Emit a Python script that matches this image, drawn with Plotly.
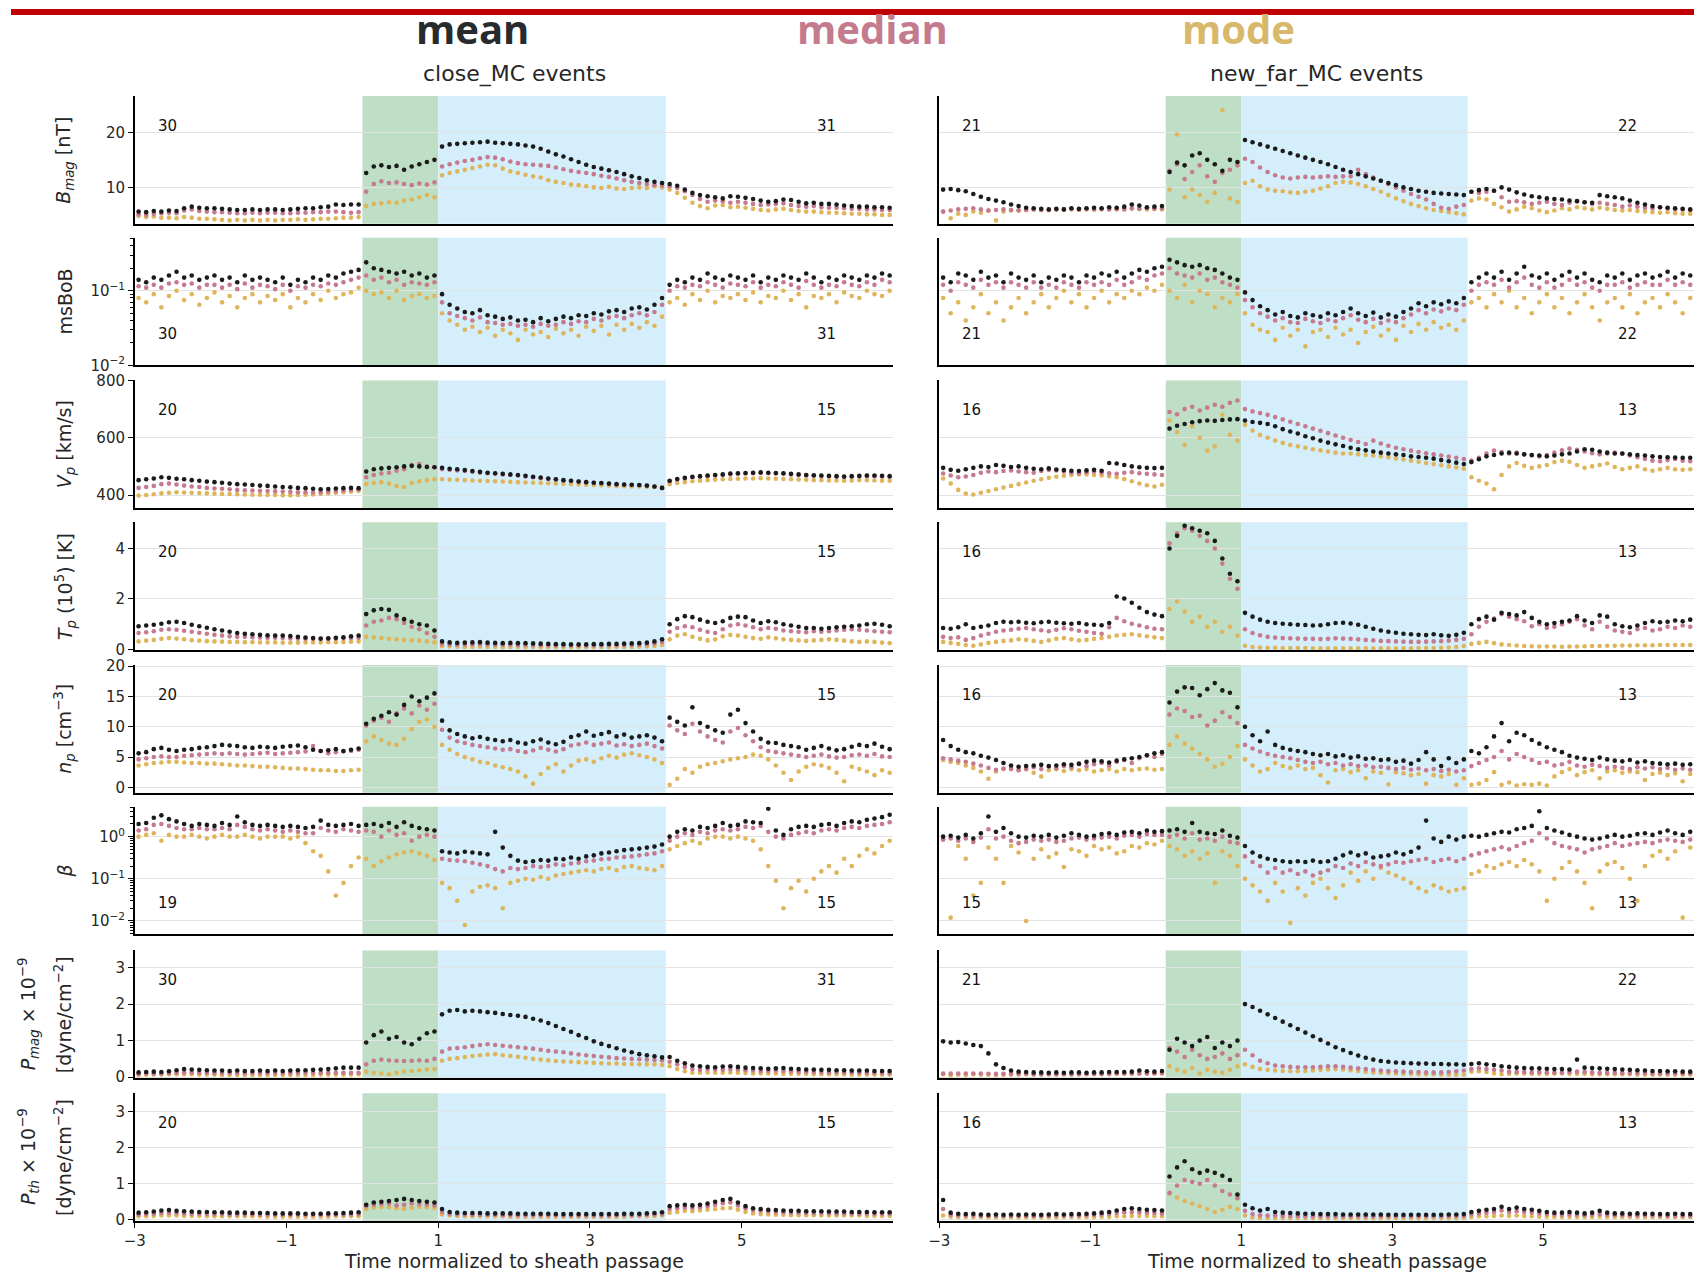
import numpy as np
import plotly.graph_objects as go

W, H = 1694, 1275

# ---------------------------------------------------------------------------
# Superposed-epoch profiles, one value per 0.1 of normalised time
# (30 bins before the sheath, 10 in the sheath, 30 in the MC, 30 after).
# ---------------------------------------------------------------------------

# ======================= close_MC events =======================
close_bmag_mean = [5.6,5.5,5.7,5.6,5.8,5.7,6.2,6.5,6.3,6.2,
    6.2,6.1,6.0,5.9,5.9,6.0,5.9,6.0,6.0,5.9,
    6.0,6.1,6.2,6.2,6.4,6.5,6.9,6.8,6.9,6.9,
    12.6,13.8,14.0,13.7,13.9,13.2,13.8,14.2,14.6,15.0,
    17.4,17.8,17.9,18.0,18.1,18.2,18.3,18.1,18.0,17.9,
    17.8,17.6,17.4,17.0,16.5,16.0,15.6,15.1,14.6,14.1,
    13.7,13.4,13.1,12.8,12.4,12.0,11.7,11.3,11.0,10.8,
    10.6,10.3,9.6,9.0,8.6,8.4,8.2,8.0,8.4,8.3,
    8.1,7.9,7.6,7.4,7.5,7.8,7.7,7.4,7.1,7.2,
    7.0,7.0,6.9,6.7,6.6,6.5,6.5,6.4,6.4,6.3]
close_bmag_median = [5.1,5.0,5.2,5.3,5.4,5.3,5.8,6.0,5.7,5.6,
    5.5,5.5,5.4,5.3,5.3,5.4,5.3,5.4,5.4,5.3,
    5.3,5.4,5.4,5.5,5.5,5.6,5.6,5.5,5.4,5.5,
    9.2,10.6,11.1,10.8,10.9,10.6,10.4,10.7,10.5,10.9,
    13.8,14.2,14.5,14.8,15.0,15.3,15.5,15.4,15.1,14.7,
    14.4,14.2,14.1,14.0,13.9,13.6,13.3,13.0,12.8,12.6,
    12.4,12.1,11.9,11.6,11.3,11.0,10.8,10.6,10.4,10.3,
    10.2,9.9,9.3,8.6,7.9,7.4,7.6,7.5,7.2,7.4,
    7.2,7.0,6.8,6.9,7.0,7.1,6.8,6.6,6.5,6.6,
    6.4,6.3,6.3,6.2,6.1,6.1,6.0,6.0,5.9,5.9]
close_bmag_mode = [4.8,4.6,4.7,4.5,4.5,4.4,4.6,4.5,4.3,4.3,
    4.2,4.1,4.0,4.1,4.0,4.1,4.0,4.1,4.0,4.1,
    4.1,4.2,4.1,4.2,4.3,4.3,4.4,4.5,4.5,4.6,
    6.6,7.0,7.1,7.3,7.2,7.6,7.8,8.2,8.6,8.2,
    12.2,12.6,12.9,13.2,13.5,13.8,14.1,14.0,13.4,12.9,
    12.6,12.3,12.0,11.8,11.3,11.0,10.8,10.5,10.4,10.2,
    10.0,9.9,10.1,9.8,9.7,9.9,10.0,9.9,10.2,10.0,
    9.6,9.0,8.1,7.2,6.6,6.2,6.7,6.8,6.4,6.5,
    6.3,6.1,5.9,5.8,6.0,6.1,5.9,5.7,5.6,5.6,
    5.5,5.4,5.4,5.3,5.2,5.2,5.1,5.1,5.0,5.0]

close_msbob_mean = [0.14,0.13,0.15,0.14,0.16,0.18,0.15,0.16,0.14,0.15,
    0.16,0.14,0.15,0.13,0.16,0.14,0.15,0.14,0.13,0.15,
    0.12,0.14,0.13,0.15,0.14,0.16,0.15,0.17,0.18,0.19,
    0.24,0.20,0.19,0.18,0.17,0.18,0.16,0.17,0.15,0.16,
    0.09,0.065,0.058,0.052,0.050,0.055,0.047,0.045,0.042,0.044,
    0.040,0.041,0.038,0.043,0.039,0.042,0.045,0.043,0.047,0.046,
    0.050,0.048,0.053,0.055,0.052,0.058,0.060,0.056,0.065,0.08,
    0.12,0.14,0.13,0.15,0.14,0.17,0.15,0.14,0.16,0.15,
    0.14,0.16,0.13,0.15,0.14,0.16,0.15,0.14,0.17,0.15,
    0.13,0.15,0.14,0.16,0.15,0.14,0.16,0.15,0.17,0.16]
close_msbob_median = [0.115,0.11,0.12,0.11,0.125,0.13,0.12,0.125,0.11,0.12,
    0.12,0.11,0.12,0.105,0.125,0.11,0.12,0.115,0.105,0.12,
    0.10,0.115,0.11,0.12,0.115,0.125,0.12,0.13,0.14,0.15,
    0.16,0.14,0.15,0.13,0.14,0.12,0.13,0.125,0.12,0.13,
    0.07,0.05,0.046,0.043,0.040,0.044,0.038,0.037,0.035,0.036,
    0.034,0.035,0.033,0.036,0.034,0.035,0.038,0.036,0.039,0.038,
    0.042,0.040,0.044,0.046,0.043,0.047,0.050,0.047,0.052,0.065,
    0.10,0.115,0.11,0.12,0.115,0.13,0.12,0.11,0.125,0.12,
    0.115,0.13,0.11,0.12,0.115,0.13,0.12,0.11,0.135,0.12,
    0.11,0.12,0.115,0.13,0.12,0.115,0.13,0.12,0.14,0.13]
close_msbob_mode = [0.08,0.07,0.09,0.06,0.085,0.10,0.075,0.09,0.065,0.08,
    0.095,0.07,0.085,0.06,0.08,0.09,0.07,0.085,0.075,0.09,
    0.06,0.08,0.07,0.09,0.075,0.10,0.08,0.09,0.095,0.11,
    0.10,0.09,0.095,0.08,0.10,0.075,0.085,0.09,0.08,0.085,
    0.05,0.04,0.035,0.03,0.033,0.028,0.032,0.025,0.03,0.027,
    0.022,0.03,0.026,0.028,0.024,0.031,0.027,0.03,0.025,0.033,
    0.029,0.034,0.026,0.035,0.03,0.036,0.032,0.038,0.034,0.045,
    0.07,0.08,0.065,0.09,0.075,0.10,0.07,0.085,0.08,0.09,
    0.075,0.095,0.07,0.085,0.08,0.10,0.075,0.09,0.06,0.085,
    0.08,0.09,0.07,0.095,0.085,0.08,0.10,0.09,0.085,0.10]

close_vp_mean = [452,455,458,462,460,457,455,452,450,447,
    445,443,440,438,437,435,433,432,430,428,
    427,425,424,422,420,421,423,424,425,424,
    482,490,493,495,497,500,502,500,498,497,
    495,492,490,487,484,481,478,476,474,472,
    470,467,464,461,458,455,452,450,447,445,
    443,442,440,438,437,436,435,433,430,425,
    450,456,460,464,466,468,470,472,475,476,
    477,478,479,478,477,476,474,472,470,469,
    468,467,466,465,466,467,468,468,467,466]
close_vp_median = [425,428,432,438,440,437,433,430,428,425,
    423,422,420,418,417,416,415,414,413,412,
    411,410,410,409,410,412,414,416,418,420,
    462,470,475,478,485,490,505,508,500,498,
    490,488,486,484,481,478,476,474,472,470,
    468,465,462,459,456,454,451,449,447,445,
    443,441,439,437,436,435,434,432,429,424,
    448,454,458,462,464,466,468,470,472,474,
    475,476,477,476,475,474,472,470,468,467,
    466,465,464,463,464,465,466,466,465,464]
close_vp_mode = [398,400,403,406,408,410,409,408,407,406,
    405,404,404,403,402,401,401,400,400,399,
    399,400,401,402,404,406,408,410,412,414,
    438,442,445,440,432,428,442,448,452,455,
    455,454,453,452,451,450,449,448,447,446,
    445,444,443,442,441,440,439,438,437,436,
    435,434,433,432,431,430,430,429,428,427,
    438,442,445,448,450,452,454,455,456,457,
    458,458,459,458,457,456,455,454,453,452,
    452,451,451,450,451,452,452,451,450,450]

close_tp_mean = [0.92,0.95,0.98,1.02,1.08,1.10,1.05,0.98,0.92,0.86,
    0.80,0.75,0.70,0.65,0.62,0.60,0.58,0.56,0.55,0.55,
    0.53,0.50,0.47,0.45,0.43,0.44,0.46,0.48,0.52,0.55,
    1.40,1.55,1.60,1.57,1.35,1.20,1.10,1.00,0.95,0.75,
    0.32,0.28,0.26,0.27,0.28,0.29,0.27,0.26,0.25,0.26,
    0.25,0.25,0.24,0.23,0.22,0.21,0.21,0.20,0.20,0.20,
    0.21,0.21,0.22,0.22,0.23,0.24,0.25,0.27,0.32,0.40,
    1.00,1.20,1.32,1.28,1.18,1.10,1.05,1.12,1.25,1.30,
    1.28,1.15,1.05,1.12,1.08,1.00,0.95,0.90,0.85,0.85,
    0.82,0.85,0.88,0.90,0.92,0.95,1.00,1.02,0.98,0.92]
close_tp_median = [0.65,0.68,0.72,0.78,0.80,0.78,0.74,0.70,0.66,0.62,
    0.58,0.55,0.52,0.50,0.50,0.48,0.47,0.46,0.46,0.45,
    0.44,0.43,0.42,0.42,0.41,0.42,0.43,0.44,0.45,0.46,
    0.95,1.10,1.15,1.25,1.20,1.05,0.90,0.80,0.65,0.50,
    0.22,0.20,0.19,0.20,0.20,0.21,0.20,0.19,0.19,0.19,
    0.18,0.18,0.18,0.17,0.17,0.16,0.16,0.16,0.16,0.16,
    0.16,0.17,0.17,0.17,0.18,0.18,0.19,0.20,0.24,0.30,
    0.70,0.85,0.92,0.88,0.78,0.70,0.65,0.80,0.95,1.00,
    0.95,0.88,0.80,0.85,0.82,0.75,0.72,0.70,0.68,0.72,
    0.70,0.72,0.75,0.78,0.80,0.78,0.75,0.72,0.70,0.68]
close_tp_mode = [0.32,0.35,0.38,0.42,0.45,0.43,0.40,0.37,0.35,0.33,
    0.32,0.31,0.30,0.30,0.29,0.29,0.28,0.28,0.28,0.27,
    0.27,0.27,0.28,0.28,0.28,0.29,0.29,0.30,0.31,0.32,
    0.50,0.48,0.45,0.42,0.40,0.38,0.36,0.35,0.32,0.28,
    0.13,0.12,0.11,0.10,0.10,0.11,0.10,0.10,0.09,0.10,
    0.10,0.09,0.10,0.09,0.09,0.09,0.08,0.09,0.09,0.09,
    0.09,0.10,0.09,0.10,0.10,0.10,0.11,0.12,0.14,0.18,
    0.40,0.55,0.60,0.50,0.42,0.36,0.40,0.52,0.58,0.55,
    0.50,0.45,0.42,0.48,0.44,0.40,0.38,0.36,0.34,0.36,
    0.38,0.40,0.38,0.35,0.32,0.30,0.32,0.30,0.27,0.25]

close_np_mean = [5.6,5.8,6.3,6.5,6.2,6.0,6.2,6.3,6.5,6.6,
    6.8,7.0,6.9,6.8,6.6,6.5,6.7,6.6,6.5,6.7,
    6.8,6.9,6.6,6.2,6.0,6.1,6.3,6.0,6.2,6.4,
    10.5,11.3,11.8,12.4,12.0,13.6,15.0,14.2,14.8,15.5,
    11.0,9.4,8.8,8.4,8.1,8.3,8.0,7.8,7.6,7.8,
    7.4,7.2,7.6,7.9,7.4,7.1,7.5,8.3,8.6,9.2,
    8.5,8.8,9.1,8.4,8.7,8.2,8.4,8.6,8.2,7.6,
    11.5,10.8,10.2,13.2,10.6,10.0,9.4,9.0,12.0,12.8,
    10.6,9.2,8.0,7.4,7.3,7.0,6.8,6.6,6.2,6.5,
    6.8,6.4,6.1,6.3,6.7,7.0,6.8,7.2,6.7,6.3]
close_np_median = [4.6,4.8,5.0,5.1,5.0,5.0,5.2,5.3,5.4,5.5,
    5.6,5.5,5.6,5.5,5.4,5.5,5.6,5.7,5.5,5.6,
    5.7,5.8,5.9,6.8,6.0,5.6,5.8,5.9,6.0,6.2,
    10.2,11.0,11.5,10.8,12.2,13.0,12.2,13.5,12.8,13.8,
    9.5,8.2,7.6,7.3,7.0,6.8,6.6,6.4,6.2,6.3,
    6.0,5.8,6.1,6.5,6.2,5.9,6.3,6.9,7.1,7.4,
    7.0,7.2,7.4,6.9,7.1,6.8,7.0,7.2,6.8,6.4,
    10.2,9.4,8.8,10.5,9.2,8.4,7.8,7.4,9.2,9.8,
    8.6,7.6,6.6,6.0,5.8,5.6,5.4,5.2,5.0,5.2,
    5.4,5.1,4.9,5.0,5.3,5.4,5.2,5.5,5.1,5.0]
close_np_mode = [3.6,3.8,4.0,4.1,4.2,4.2,4.1,4.0,4.0,3.9,
    3.9,3.8,3.7,3.6,3.6,3.5,3.4,3.4,3.3,3.2,
    3.1,3.1,3.0,2.9,2.8,2.8,2.7,2.7,2.8,2.9,
    7.6,8.4,7.8,7.2,7.0,8.0,9.6,10.8,11.2,10.0,
    7.0,6.2,5.5,5.0,4.6,4.2,4.0,3.6,3.3,3.0,
    2.6,1.8,0.6,2.2,3.2,3.8,2.6,3.6,4.4,4.6,
    4.2,4.8,5.2,4.9,5.4,5.6,5.3,5.0,4.6,4.0,
    0.4,1.4,3.0,2.4,3.4,3.8,4.0,4.3,4.6,4.8,
    5.0,5.4,5.2,4.6,3.6,2.4,1.2,2.6,3.4,3.8,
    3.6,3.2,2.4,1.0,3.4,3.0,2.6,2.0,2.8,2.4]

close_beta_mean = [2.0,2.1,2.8,3.2,2.6,2.3,2.0,1.8,2.0,1.9,
    1.8,2.1,1.9,3.0,2.2,1.9,1.8,1.9,1.8,1.7,
    1.8,1.7,1.6,1.7,2.4,1.9,1.8,1.9,2.0,1.8,
    1.9,2.0,1.8,2.1,1.7,2.2,1.8,1.6,1.5,1.4,
    0.45,0.42,0.40,0.44,0.42,0.40,0.38,1.3,0.55,0.35,
    0.27,0.25,0.26,0.28,0.27,0.30,0.29,0.32,0.30,0.34,
    0.36,0.40,0.42,0.45,0.48,0.50,0.52,0.55,0.58,0.65,
    1.0,1.3,1.5,1.4,1.7,1.6,1.8,2.1,1.8,1.9,
    2.3,2.2,2.1,4.6,1.4,1.1,1.5,1.7,1.8,1.7,
    1.9,2.0,1.8,2.1,2.3,2.2,2.5,2.7,2.9,3.3]
close_beta_median = [1.4,1.5,1.9,2.0,1.8,1.6,1.5,1.5,1.6,1.5,
    1.5,1.6,1.5,1.9,1.7,1.5,1.4,1.5,1.4,1.3,
    1.4,1.3,1.2,1.2,1.6,1.4,1.3,1.5,1.4,1.3,
    1.4,1.3,1.0,1.4,1.1,1.2,0.8,1.0,1.1,1.0,
    0.30,0.28,0.27,0.26,0.24,0.22,0.20,0.17,0.15,0.18,
    0.17,0.18,0.20,0.19,0.20,0.22,0.21,0.23,0.24,0.26,
    0.27,0.29,0.30,0.32,0.33,0.34,0.36,0.38,0.40,0.45,
    0.8,1.0,1.2,1.1,1.3,1.2,1.4,1.5,1.4,1.5,
    1.7,1.6,1.8,1.3,1.0,0.9,1.1,1.2,1.3,1.2,
    1.4,1.5,1.4,1.6,1.7,1.6,1.8,1.9,2.0,2.2]
close_beta_mode = [1.0,1.1,1.2,0.8,1.1,1.0,1.0,1.1,1.0,0.9,
    1.0,1.1,1.0,1.0,1.1,1.0,0.9,1.0,1.0,1.0,
    0.9,1.0,0.7,0.45,0.35,0.15,0.04,0.08,0.2,0.32,
    0.30,0.20,0.26,0.32,0.38,0.42,0.45,0.40,0.35,0.28,
    0.08,0.06,0.03,0.008,0.05,0.065,0.07,0.06,0.02,0.08,
    0.09,0.10,0.095,0.11,0.10,0.12,0.13,0.14,0.15,0.16,
    0.15,0.17,0.18,0.16,0.19,0.20,0.18,0.17,0.16,0.20,
    0.5,0.6,0.7,0.8,0.7,0.9,1.0,1.0,0.9,1.0,
    0.9,0.8,0.5,0.2,0.09,0.02,0.06,0.09,0.05,0.1,
    0.15,0.2,0.14,0.3,0.2,0.35,0.5,0.4,0.6,0.8]

close_pmag_mean = [0.13,0.14,0.15,0.14,0.16,0.19,0.22,0.21,0.20,0.19,
    0.18,0.18,0.17,0.18,0.17,0.17,0.18,0.17,0.18,0.17,
    0.18,0.19,0.19,0.20,0.21,0.22,0.24,0.26,0.26,0.26,
    0.95,1.15,1.25,1.05,1.10,0.95,0.90,1.05,1.20,1.25,
    1.72,1.82,1.84,1.80,1.82,1.80,1.78,1.76,1.73,1.70,
    1.68,1.65,1.60,1.55,1.48,1.40,1.32,1.24,1.15,1.07,
    0.98,0.91,0.85,0.79,0.73,0.68,0.63,0.60,0.57,0.54,
    0.55,0.45,0.38,0.32,0.30,0.28,0.27,0.29,0.30,0.28,
    0.26,0.25,0.24,0.23,0.24,0.25,0.23,0.22,0.21,0.21,
    0.20,0.20,0.19,0.19,0.18,0.18,0.18,0.17,0.17,0.17]
close_pmag_median = [0.09,0.10,0.10,0.10,0.11,0.12,0.13,0.13,0.12,0.12,
    0.11,0.11,0.11,0.11,0.11,0.11,0.11,0.11,0.11,0.11,
    0.11,0.12,0.12,0.12,0.12,0.12,0.12,0.12,0.12,0.12,
    0.35,0.45,0.48,0.46,0.45,0.44,0.45,0.46,0.45,0.50,
    0.70,0.78,0.80,0.82,0.85,0.88,0.90,0.88,0.86,0.84,
    0.82,0.80,0.78,0.75,0.72,0.70,0.68,0.65,0.62,0.60,
    0.58,0.56,0.54,0.52,0.51,0.50,0.49,0.48,0.47,0.46,
    0.42,0.35,0.28,0.22,0.20,0.22,0.21,0.20,0.22,0.21,
    0.19,0.18,0.17,0.17,0.18,0.17,0.16,0.15,0.15,0.14,
    0.14,0.13,0.14,0.13,0.13,0.12,0.12,0.12,0.11,0.11]
close_pmag_mode = [0.06,0.07,0.07,0.07,0.08,0.08,0.08,0.08,0.07,0.07,
    0.07,0.06,0.06,0.06,0.06,0.06,0.06,0.06,0.06,0.06,
    0.06,0.06,0.06,0.06,0.07,0.07,0.07,0.07,0.07,0.08,
    0.15,0.12,0.10,0.08,0.12,0.15,0.17,0.19,0.21,0.22,
    0.45,0.50,0.52,0.55,0.58,0.60,0.62,0.63,0.60,0.58,
    0.56,0.53,0.50,0.48,0.46,0.44,0.43,0.42,0.41,0.40,
    0.39,0.38,0.37,0.37,0.36,0.36,0.35,0.35,0.35,0.34,
    0.30,0.22,0.16,0.12,0.12,0.13,0.12,0.12,0.13,0.12,
    0.11,0.10,0.10,0.10,0.10,0.09,0.09,0.09,0.09,0.08,
    0.08,0.08,0.08,0.08,0.07,0.07,0.07,0.07,0.07,0.07]

close_pth_mean = [0.20,0.21,0.23,0.26,0.27,0.25,0.24,0.23,0.22,0.22,
    0.21,0.21,0.20,0.20,0.20,0.19,0.19,0.19,0.18,0.18,
    0.18,0.18,0.17,0.17,0.17,0.18,0.18,0.19,0.20,0.21,
    0.42,0.48,0.50,0.52,0.55,0.58,0.55,0.52,0.50,0.48,
    0.30,0.22,0.20,0.19,0.19,0.19,0.18,0.18,0.18,0.18,
    0.17,0.17,0.17,0.17,0.17,0.16,0.16,0.16,0.16,0.16,
    0.16,0.16,0.16,0.16,0.17,0.17,0.17,0.18,0.19,0.21,
    0.38,0.40,0.42,0.40,0.42,0.45,0.50,0.55,0.58,0.48,
    0.38,0.32,0.30,0.28,0.27,0.26,0.25,0.25,0.24,0.24,
    0.24,0.23,0.23,0.23,0.22,0.22,0.22,0.21,0.21,0.21]
close_pth_median = [0.15,0.16,0.17,0.19,0.20,0.19,0.18,0.17,0.17,0.16,
    0.16,0.16,0.15,0.15,0.15,0.15,0.14,0.14,0.14,0.14,
    0.14,0.14,0.14,0.14,0.14,0.14,0.15,0.15,0.15,0.16,
    0.38,0.42,0.44,0.45,0.40,0.42,0.46,0.44,0.42,0.40,
    0.22,0.17,0.15,0.15,0.14,0.14,0.14,0.14,0.13,0.13,
    0.13,0.13,0.13,0.13,0.13,0.13,0.12,0.12,0.12,0.12,
    0.12,0.12,0.12,0.12,0.13,0.13,0.13,0.14,0.15,0.16,
    0.30,0.32,0.34,0.33,0.35,0.38,0.42,0.46,0.48,0.40,
    0.32,0.27,0.25,0.23,0.22,0.21,0.20,0.20,0.19,0.19,
    0.19,0.18,0.18,0.18,0.18,0.17,0.17,0.17,0.17,0.17]
close_pth_mode = [0.10,0.10,0.11,0.12,0.12,0.12,0.11,0.11,0.11,0.10,
    0.10,0.10,0.10,0.10,0.10,0.10,0.10,0.09,0.09,0.09,
    0.09,0.09,0.09,0.09,0.09,0.09,0.10,0.10,0.10,0.10,
    0.30,0.34,0.36,0.35,0.32,0.30,0.34,0.36,0.35,0.33,
    0.15,0.12,0.11,0.10,0.10,0.10,0.10,0.10,0.10,0.09,
    0.09,0.09,0.09,0.09,0.09,0.09,0.09,0.09,0.09,0.09,
    0.09,0.09,0.09,0.09,0.09,0.10,0.10,0.10,0.11,0.12,
    0.20,0.22,0.25,0.24,0.26,0.28,0.30,0.32,0.33,0.28,
    0.22,0.18,0.16,0.15,0.14,0.14,0.13,0.13,0.13,0.13,
    0.12,0.12,0.12,0.12,0.12,0.12,0.11,0.11,0.11,0.11]

# ======================= new_far_MC events =======================
far_bmag_mean = [9.6,9.7,9.5,9.3,8.8,8.3,7.9,7.6,7.3,6.9,
    6.6,6.3,6.2,6.1,6.0,6.1,6.0,6.2,6.1,6.2,
    6.3,6.2,6.4,6.3,6.5,6.9,6.7,6.4,6.5,6.6,
    12.8,14.5,14.0,15.8,16.2,15.0,14.2,13.0,15.0,14.6,
    18.6,18.2,17.8,17.4,17.0,16.6,16.2,15.8,15.4,15.0,
    14.6,14.2,13.7,13.2,12.8,12.4,12.0,11.6,11.2,10.8,
    10.4,10.0,9.7,9.4,9.2,9.0,8.9,8.8,8.7,8.6,
    9.2,9.5,9.7,9.4,10.0,9.6,9.1,8.7,8.4,8.2,
    8.0,7.9,7.8,7.6,7.5,7.3,7.2,8.6,8.4,8.2,
    8.0,7.6,7.2,6.9,6.6,6.4,6.3,6.2,6.1,6.0]
far_bmag_median = [5.6,5.8,6.0,6.1,6.2,6.0,5.8,5.9,6.0,5.9,
    5.8,5.9,6.0,5.9,5.9,6.0,6.0,6.1,6.0,6.1,
    6.0,6.1,6.0,6.1,6.0,6.2,6.1,6.2,6.1,6.2,
    13.0,14.2,11.5,12.8,14.0,12.0,11.0,12.6,13.2,14.0,
    15.2,14.6,13.6,12.8,12.2,11.8,11.6,11.8,11.9,11.8,
    11.9,12.0,11.9,12.0,12.0,13.2,12.4,11.8,11.2,10.6,
    10.0,9.4,8.8,8.3,7.8,7.0,6.3,6.1,6.5,6.8,
    9.2,9.0,9.2,9.4,8.2,7.4,7.5,7.3,7.0,7.2,
    7.4,7.0,6.8,7.2,7.5,7.3,7.0,7.2,7.0,6.8,
    6.5,6.7,6.5,6.3,6.2,6.4,6.2,6.0,6.0,5.9]
far_bmag_mode = [5.6,4.4,5.2,5.0,5.6,5.4,5.8,4.0,5.6,5.8,
    5.8,5.9,6.0,5.9,5.9,6.0,6.0,6.0,6.0,6.0,
    6.0,6.0,6.1,6.0,6.1,6.1,6.1,6.0,6.1,6.0,
    9.6,19.6,8.2,9.6,8.6,7.4,9.0,24.0,8.0,7.4,
    10.8,11.2,10.2,9.6,9.4,9.3,9.1,9.0,9.2,9.4,
    9.8,10.2,10.8,11.0,10.9,10.6,10.2,9.7,9.2,8.6,
    8.0,7.5,7.0,6.6,6.2,5.9,5.7,5.5,5.3,5.1,
    7.6,8.0,7.8,7.0,6.4,5.6,6.0,6.5,6.2,5.8,
    5.5,5.8,6.2,6.0,6.4,6.2,6.0,6.3,6.1,5.9,
    5.8,5.9,5.7,5.6,5.5,5.4,5.5,5.3,5.2,5.2]

far_msbob_mean = [0.15,0.13,0.17,0.16,0.14,0.18,0.15,0.16,0.13,0.17,
    0.15,0.14,0.16,0.13,0.15,0.14,0.16,0.15,0.13,0.16,
    0.15,0.17,0.16,0.18,0.15,0.17,0.19,0.18,0.20,0.21,
    0.26,0.24,0.22,0.21,0.22,0.20,0.19,0.17,0.15,0.14,
    0.095,0.075,0.062,0.055,0.048,0.052,0.046,0.044,0.05,0.047,
    0.045,0.05,0.047,0.052,0.058,0.05,0.046,0.051,0.044,0.048,
    0.045,0.052,0.058,0.068,0.062,0.07,0.066,0.072,0.068,0.08,
    0.13,0.15,0.17,0.15,0.18,0.14,0.17,0.21,0.16,0.15,
    0.17,0.14,0.16,0.18,0.15,0.17,0.14,0.13,0.16,0.15,
    0.17,0.14,0.16,0.17,0.15,0.16,0.18,0.15,0.17,0.16]
far_msbob_median = [0.12,0.10,0.13,0.12,0.11,0.14,0.12,0.13,0.11,0.13,
    0.12,0.11,0.13,0.11,0.12,0.11,0.13,0.12,0.11,0.13,
    0.12,0.13,0.12,0.14,0.12,0.13,0.15,0.14,0.16,0.17,
    0.20,0.17,0.16,0.15,0.17,0.14,0.15,0.13,0.12,0.11,
    0.075,0.06,0.05,0.045,0.04,0.043,0.038,0.037,0.042,0.039,
    0.037,0.041,0.039,0.043,0.047,0.041,0.038,0.042,0.037,0.04,
    0.038,0.043,0.048,0.055,0.05,0.056,0.053,0.058,0.055,0.065,
    0.10,0.12,0.13,0.12,0.14,0.11,0.13,0.15,0.12,0.11,
    0.13,0.11,0.12,0.14,0.12,0.13,0.11,0.10,0.12,0.12,
    0.13,0.11,0.12,0.13,0.12,0.12,0.14,0.12,0.13,0.12]
far_msbob_mode = [0.08,0.05,0.07,0.04,0.06,0.09,0.05,0.07,0.04,0.06,
    0.08,0.05,0.07,0.09,0.06,0.08,0.10,0.07,0.09,0.06,
    0.08,0.10,0.07,0.09,0.08,0.10,0.09,0.11,0.10,0.12,
    0.10,0.08,0.12,0.07,0.10,0.09,0.06,0.08,0.07,0.09,
    0.05,0.035,0.03,0.028,0.022,0.032,0.025,0.03,0.018,0.028,
    0.03,0.024,0.032,0.026,0.03,0.02,0.028,0.033,0.025,0.03,
    0.022,0.034,0.028,0.036,0.03,0.038,0.032,0.035,0.03,0.04,
    0.07,0.08,0.06,0.09,0.07,0.10,0.06,0.08,0.05,0.07,
    0.09,0.06,0.08,0.05,0.07,0.09,0.06,0.04,0.07,0.08,
    0.06,0.09,0.05,0.07,0.08,0.06,0.09,0.07,0.05,0.08]

far_vp_mean = [495,488,485,490,495,500,498,505,502,498,
    500,495,492,490,493,489,487,485,484,486,
    488,485,512,510,505,500,497,495,494,495,
    632,642,648,654,658,660,659,662,664,665,
    660,655,652,648,640,630,622,615,605,598,
    590,583,577,571,565,560,556,552,548,545,
    542,540,535,533,530,527,522,518,513,508,
    515,525,535,540,545,548,545,542,540,538,
    535,538,542,545,552,560,558,552,548,545,
    545,542,540,538,535,533,532,531,530,530]
far_vp_median = [475,468,462,465,470,478,482,480,484,486,
    482,480,478,484,488,486,482,478,476,480,
    482,478,476,474,478,480,476,474,472,470,
    690,682,700,708,695,705,715,708,722,730,
    700,692,686,680,672,664,656,648,640,632,
    624,616,608,600,592,585,578,590,580,572,
    565,560,555,550,546,542,538,534,530,526,
    520,530,545,555,550,545,548,542,538,535,
    540,548,556,562,558,552,546,542,545,548,
    544,538,532,526,520,518,522,526,520,518]
far_vp_mode = [458,440,418,405,402,408,414,420,426,432,
    438,444,450,455,460,464,467,470,472,472,
    470,468,466,462,456,448,440,434,430,436,
    660,620,575,640,600,555,570,680,610,590,
    645,625,610,600,590,582,575,570,565,560,
    556,552,548,545,545,542,540,538,535,532,
    528,524,520,516,512,508,504,500,496,492,
    462,450,440,420,470,500,512,502,495,500,
    505,515,520,516,505,495,500,505,510,498,
    490,495,500,490,485,490,495,490,488,490]

far_tp_mean = [0.85,0.82,0.88,1.00,0.85,0.90,0.95,1.05,1.10,1.08,
    1.10,1.06,1.04,1.08,1.10,1.06,1.04,1.02,1.05,1.00,
    0.98,0.96,1.05,2.10,2.02,1.85,1.65,1.48,1.38,1.32,
    4.0,4.5,4.9,4.8,4.7,4.6,4.3,3.6,3.0,2.7,
    1.45,1.30,1.18,1.10,1.05,1.02,1.00,0.98,0.97,0.95,
    0.96,1.00,1.05,1.06,1.03,0.98,0.90,0.82,0.75,0.70,
    0.66,0.62,0.60,0.58,0.57,0.60,0.56,0.54,0.58,0.66,
    1.00,1.20,1.30,1.18,1.45,1.40,1.35,1.48,1.25,1.10,
    1.00,1.05,1.10,1.15,1.32,1.15,1.05,1.35,1.30,1.00,
    0.92,0.88,0.95,1.05,1.12,1.08,1.10,1.15,1.12,1.18]
far_tp_median = [0.50,0.45,0.48,0.38,0.45,0.55,0.62,0.70,0.75,0.78,
    0.82,0.85,0.80,0.76,0.72,0.78,0.84,0.80,0.74,0.70,
    0.65,0.62,0.88,1.25,1.12,1.02,0.95,0.88,0.82,0.80,
    4.2,4.6,4.8,4.7,4.5,4.3,4.0,3.4,2.8,2.4,
    0.80,0.65,0.56,0.50,0.47,0.45,0.44,0.43,0.42,0.42,
    0.41,0.42,0.44,0.43,0.42,0.40,0.38,0.36,0.34,0.33,
    0.32,0.31,0.30,0.30,0.31,0.32,0.33,0.35,0.38,0.42,
    0.60,0.90,1.10,1.22,1.40,1.30,1.20,1.12,0.92,1.00,
    0.85,0.90,1.00,1.10,1.20,0.95,0.80,1.10,0.90,0.75,
    0.70,0.65,0.80,0.85,0.75,0.80,0.90,0.85,0.95,0.90]
far_tp_mode = [0.30,0.26,0.22,0.18,0.15,0.20,0.26,0.30,0.34,0.36,
    0.40,0.38,0.34,0.30,0.36,0.42,0.45,0.40,0.36,0.38,
    0.42,0.45,0.50,0.55,0.58,0.60,0.56,0.52,0.48,0.45,
    1.6,1.9,1.5,1.1,1.3,0.9,1.1,0.7,0.9,0.55,
    0.15,0.10,0.08,0.07,0.07,0.06,0.06,0.06,0.06,0.05,
    0.05,0.05,0.05,0.05,0.05,0.05,0.05,0.05,0.05,0.05,
    0.05,0.05,0.05,0.06,0.06,0.06,0.07,0.08,0.10,0.14,
    0.22,0.26,0.30,0.25,0.20,0.18,0.16,0.14,0.13,0.12,
    0.12,0.12,0.11,0.12,0.12,0.13,0.14,0.14,0.15,0.15,
    0.16,0.16,0.17,0.17,0.17,0.18,0.18,0.18,0.18,0.18]

far_np_mean = [7.8,6.8,6.2,5.8,5.6,5.2,4.9,4.5,4.0,3.6,
    3.4,3.5,3.6,3.7,3.5,3.6,3.8,3.7,3.9,4.2,
    4.4,4.3,4.1,4.4,4.6,4.8,5.0,5.3,5.6,5.8,
    14.0,15.8,16.5,16.4,15.2,16.2,17.2,16.0,15.6,13.2,
    10.0,8.6,7.6,9.2,7.0,6.5,6.2,6.0,5.8,5.5,
    5.3,5.5,5.1,5.3,4.9,5.1,4.7,4.8,4.5,4.6,
    4.2,4.4,3.9,4.5,5.8,4.6,3.5,4.8,4.0,4.6,
    6.0,5.6,6.6,8.4,10.6,7.6,9.0,8.6,7.8,7.2,
    6.6,6.2,5.8,5.2,4.9,4.7,4.5,4.9,4.6,4.4,
    4.3,4.5,4.1,4.3,4.0,3.9,3.8,3.9,3.7,3.8]
far_np_median = [4.8,4.6,4.4,4.2,3.9,3.6,3.2,2.9,3.1,3.0,
    2.8,3.0,3.3,3.0,3.4,3.1,3.5,3.3,3.8,3.5,
    3.8,4.0,3.6,4.2,4.5,4.0,4.8,5.3,5.0,5.5,
    12.0,13.0,12.6,11.6,11.8,10.2,11.0,12.4,11.6,10.6,
    7.0,6.4,5.9,5.5,5.2,5.0,4.8,4.5,4.2,4.0,
    4.2,3.8,4.0,3.6,3.8,3.5,3.6,3.3,3.4,3.2,
    3.0,3.2,2.9,3.1,2.8,3.0,2.7,2.9,2.6,2.8,
    3.5,4.0,4.5,5.0,6.0,4.6,5.5,5.0,4.5,4.0,
    4.2,3.6,3.8,4.2,3.6,3.4,3.7,3.5,3.2,3.4,
    3.2,3.0,3.3,3.1,3.3,3.0,3.2,2.9,3.1,2.9]
far_np_mode = [4.5,4.2,4.0,3.6,3.2,2.6,1.4,2.6,3.0,3.2,
    2.8,3.0,2.4,1.8,2.8,3.0,2.7,3.0,2.8,3.0,
    2.6,2.8,3.0,2.6,3.0,2.8,3.0,3.1,2.9,3.0,
    7.0,8.4,7.2,6.4,5.5,4.6,3.4,3.9,5.0,6.8,
    4.6,3.6,2.6,3.0,4.0,3.5,3.2,3.6,3.0,3.2,
    2.0,0.8,2.8,3.0,2.5,2.8,1.5,2.6,2.4,0.5,
    2.5,2.3,2.0,2.2,0.6,2.0,1.8,2.2,0.4,1.5,
    0.4,0.6,1.2,2.5,0.4,0.8,0.3,0.5,0.4,0.6,
    0.3,1.8,2.5,3.0,2.0,2.5,2.8,1.5,2.6,2.8,
    2.4,2.6,2.5,1.2,2.2,2.4,2.0,2.3,1.0,2.2]

far_beta_mean = [1.0,1.05,0.95,1.1,0.9,1.2,3.0,1.3,1.6,1.2,
    1.0,0.95,1.05,1.0,1.1,0.95,1.05,1.2,1.1,1.0,
    1.05,1.15,1.2,1.1,1.25,1.3,1.2,1.4,1.3,1.35,
    1.4,1.5,1.3,2.1,1.3,1.2,1.15,1.4,1.05,0.95,
    0.60,0.42,0.34,0.30,0.28,0.26,0.25,0.26,0.25,0.27,
    0.25,0.26,0.30,0.36,0.42,0.36,0.40,0.32,0.34,0.36,
    0.42,0.38,0.44,0.55,2.4,0.9,0.75,1.0,0.85,1.0,
    1.05,1.0,1.1,1.2,1.3,1.25,1.5,1.6,1.8,4.0,
    1.6,1.4,1.25,1.1,1.0,0.9,0.85,0.9,1.0,1.1,
    1.0,1.05,1.15,1.2,1.1,1.25,1.4,1.2,1.1,1.3]
far_beta_median = [0.85,0.9,0.8,0.9,0.75,0.95,1.5,0.9,1.0,0.8,
    0.7,0.75,0.85,0.8,0.85,0.75,0.8,0.9,0.95,0.85,
    0.9,0.95,1.0,0.9,1.05,1.1,1.0,1.15,1.1,1.1,
    1.0,1.1,0.9,1.2,0.85,0.9,0.8,1.0,0.75,0.7,
    0.34,0.25,0.20,0.14,0.18,0.14,0.16,0.13,0.15,0.12,
    0.14,0.16,0.20,0.18,0.23,0.20,0.25,0.22,0.20,0.22,
    0.25,0.24,0.26,0.28,0.30,0.25,0.28,0.30,0.26,0.30,
    0.36,0.4,0.45,0.5,0.56,0.5,0.6,0.7,0.8,1.2,
    0.9,0.7,0.6,0.55,0.5,0.42,0.5,0.55,0.6,0.7,
    0.6,0.65,0.7,0.75,0.7,0.8,0.85,0.8,0.75,0.85]
far_beta_mode = [0.85,0.012,0.6,0.3,0.04,0.08,0.55,0.3,0.08,0.6,
    0.42,0.01,0.3,0.5,0.33,0.4,0.19,0.5,0.45,0.35,
    0.6,0.5,0.55,0.4,0.45,0.6,0.55,0.7,0.65,0.8,
    0.6,0.5,0.35,0.45,0.3,0.4,0.08,0.45,0.35,0.2,
    0.10,0.07,0.05,0.03,0.08,0.05,0.009,0.06,0.04,0.08,
    0.10,0.06,0.035,0.07,0.14,0.09,0.15,0.10,0.18,0.14,
    0.12,0.10,0.08,0.06,0.05,0.07,0.06,0.05,0.055,0.06,
    0.13,0.15,0.2,0.18,0.22,0.25,0.2,0.28,0.22,0.15,
    0.03,0.1,0.18,0.25,0.15,0.08,0.02,0.15,0.22,0.25,
    0.18,0.1,0.03,0.2,0.35,0.45,0.3,0.45,0.012,0.55]

far_pmag_mean = [0.98,0.95,0.96,0.92,0.88,0.85,0.65,0.35,0.25,0.18,
    0.15,0.14,0.13,0.13,0.12,0.13,0.12,0.13,0.13,0.12,
    0.13,0.13,0.14,0.14,0.14,0.15,0.18,0.16,0.15,0.17,
    0.75,1.05,0.95,0.85,1.00,1.10,0.80,0.95,0.85,1.00,
    2.00,1.92,1.82,1.72,1.62,1.52,1.42,1.32,1.22,1.12,
    1.02,0.92,0.82,0.74,0.66,0.59,0.53,0.48,0.44,0.42,
    0.40,0.39,0.38,0.37,0.37,0.36,0.36,0.35,0.35,0.34,
    0.36,0.38,0.35,0.33,0.30,0.28,0.26,0.25,0.24,0.24,
    0.23,0.22,0.22,0.21,0.48,0.26,0.25,0.24,0.23,0.22,
    0.21,0.20,0.19,0.18,0.17,0.17,0.16,0.16,0.15,0.15]
far_pmag_median = [0.10,0.10,0.10,0.10,0.10,0.10,0.09,0.09,0.09,0.09,
    0.09,0.09,0.08,0.08,0.08,0.08,0.08,0.08,0.08,0.09,
    0.09,0.09,0.09,0.10,0.10,0.10,0.10,0.10,0.10,0.11,
    0.80,0.70,0.55,0.75,0.60,0.50,0.55,0.65,0.50,0.60,
    0.75,0.60,0.45,0.38,0.32,0.30,0.28,0.27,0.27,0.27,
    0.28,0.30,0.30,0.28,0.26,0.24,0.22,0.20,0.18,0.17,
    0.16,0.15,0.14,0.14,0.13,0.13,0.13,0.14,0.16,0.18,
    0.22,0.24,0.22,0.20,0.18,0.15,0.14,0.14,0.13,0.14,
    0.13,0.12,0.13,0.14,0.15,0.14,0.13,0.12,0.12,0.12,
    0.11,0.11,0.11,0.11,0.10,0.10,0.10,0.10,0.10,0.10]
far_pmag_mode = [0.08,0.05,0.07,0.06,0.08,0.07,0.07,0.06,0.07,0.07,
    0.07,0.08,0.07,0.07,0.08,0.07,0.08,0.07,0.08,0.08,
    0.08,0.08,0.08,0.09,0.09,0.09,0.10,0.10,0.10,0.10,
    0.30,0.20,0.15,0.25,0.10,0.20,0.15,0.12,0.20,0.30,
    0.35,0.28,0.22,0.20,0.18,0.17,0.16,0.16,0.17,0.18,
    0.20,0.21,0.22,0.21,0.19,0.17,0.15,0.13,0.12,0.11,
    0.10,0.09,0.09,0.08,0.08,0.08,0.07,0.07,0.07,0.07,
    0.15,0.16,0.14,0.10,0.08,0.09,0.10,0.10,0.09,0.09,
    0.09,0.10,0.10,0.09,0.09,0.09,0.08,0.08,0.08,0.08,
    0.08,0.08,0.07,0.07,0.07,0.07,0.07,0.07,0.07,0.07]

far_pth_mean = [0.55,0.20,0.17,0.16,0.17,0.15,0.14,0.15,0.14,0.15,
    0.14,0.15,0.15,0.14,0.15,0.16,0.15,0.16,0.16,0.17,
    0.18,0.20,0.22,0.26,0.30,0.32,0.30,0.28,0.27,0.26,
    1.20,1.45,1.62,1.40,1.30,1.36,1.30,1.22,1.10,0.70,
    0.42,0.32,0.26,0.30,0.22,0.20,0.19,0.18,0.17,0.17,
    0.16,0.16,0.16,0.15,0.15,0.15,0.15,0.15,0.15,0.14,
    0.14,0.14,0.14,0.14,0.14,0.14,0.14,0.15,0.15,0.16,
    0.22,0.25,0.28,0.30,0.36,0.30,0.34,0.30,0.28,0.25,
    0.22,0.20,0.20,0.22,0.20,0.18,0.20,0.25,0.20,0.18,
    0.18,0.17,0.18,0.17,0.17,0.16,0.16,0.17,0.16,0.16]
far_pth_median = [0.30,0.14,0.12,0.12,0.12,0.11,0.11,0.11,0.11,0.11,
    0.11,0.11,0.11,0.11,0.11,0.12,0.12,0.12,0.12,0.13,
    0.14,0.15,0.17,0.19,0.21,0.22,0.21,0.20,0.19,0.18,
    0.75,0.95,1.10,1.05,1.00,1.10,0.95,0.80,0.70,0.60,
    0.25,0.16,0.13,0.12,0.12,0.11,0.11,0.11,0.10,0.10,
    0.10,0.10,0.10,0.10,0.10,0.10,0.10,0.10,0.10,0.10,
    0.10,0.10,0.10,0.10,0.10,0.10,0.10,0.10,0.11,0.11,
    0.15,0.18,0.20,0.22,0.26,0.22,0.24,0.22,0.20,0.18,
    0.16,0.15,0.14,0.15,0.14,0.13,0.14,0.16,0.14,0.13,
    0.13,0.12,0.12,0.12,0.12,0.11,0.11,0.11,0.11,0.11]
far_pth_mode = [0.12,0.09,0.08,0.08,0.08,0.08,0.07,0.07,0.07,0.07,
    0.07,0.07,0.07,0.07,0.07,0.07,0.08,0.08,0.08,0.08,
    0.08,0.09,0.09,0.10,0.10,0.11,0.11,0.11,0.10,0.10,
    0.72,0.62,0.52,0.45,0.38,0.30,0.22,0.28,0.36,0.30,
    0.12,0.07,0.05,0.05,0.05,0.05,0.05,0.05,0.05,0.05,
    0.05,0.05,0.05,0.05,0.05,0.05,0.05,0.05,0.05,0.05,
    0.05,0.05,0.05,0.05,0.05,0.05,0.05,0.05,0.05,0.06,
    0.08,0.10,0.10,0.11,0.12,0.11,0.12,0.11,0.10,0.09,
    0.09,0.08,0.08,0.08,0.08,0.08,0.08,0.09,0.08,0.08,
    0.08,0.08,0.08,0.08,0.08,0.08,0.08,0.08,0.08,0.08]

# number of events contributing before / after the sheath+MC interval
close_counts = [(30, 31), (30, 31), (20, 15), (20, 15), (20, 15), (19, 15), (30, 31), (20, 15)]
far_counts = [(21, 22), (21, 22), (16, 13), (16, 13), (16, 13), (15, 13), (21, 22), (16, 13)]

column_titles = ["close_MC events", "new_far_MC events"]
x_tick_vals = [-3, -1, 1, 3, 5]
x_label = "Time normalized to sheath passage"

# ---------------------------------------------------------------------------
# Panel definitions (rows top to bottom)
# ---------------------------------------------------------------------------
rows = [
    dict(label=["<i>B</i><sub><i>mag</i></sub> [nT]"], log=False, rng=[3.4, 26.6],
         tickvals=[10, 20], ticktext=None, count="top",
         series=[(close_bmag_mean, close_bmag_median, close_bmag_mode),
                 (far_bmag_mean, far_bmag_median, far_bmag_mode)]),
    dict(label=["msBoB"], log=True, rng=[-2.0, -0.29],
         tickvals=[0.01, 0.1], ticktext=["10<sup>\u22122</sup>", "10<sup>\u22121</sup>"], count="bottom",
         series=[(close_msbob_mean, close_msbob_median, close_msbob_mode),
                 (far_msbob_mean, far_msbob_median, far_msbob_mode)]),
    dict(label=["<i>V</i><sub><i>p</i></sub> [km/s]"], log=False, rng=[354, 800],
         tickvals=[400, 600, 800], ticktext=None, count="top",
         series=[(close_vp_mean, close_vp_median, close_vp_mode),
                 (far_vp_mean, far_vp_median, far_vp_mode)]),
    dict(label=["<i>T</i><sub><i>p</i></sub> (10<sup>5</sup>) [K]"], log=False, rng=[-0.02, 5.04],
         tickvals=[0, 2, 4], ticktext=None, count="top",
         series=[(close_tp_mean, close_tp_median, close_tp_mode),
                 (far_tp_mean, far_tp_median, far_tp_mode)]),
    dict(label=["<i>n</i><sub><i>p</i></sub> [cm<sup>\u22123</sup>]"], log=False, rng=[-0.9, 20.2],
         tickvals=[0, 5, 10, 15, 20], ticktext=None, count="top",
         series=[(close_np_mean, close_np_median, close_np_mode),
                 (far_np_mean, far_np_median, far_np_mode)]),
    dict(label=["<i>\u03b2</i>"], log=True, rng=[-2.32, 0.71],
         tickvals=[0.01, 0.1, 1], ticktext=["10<sup>\u22122</sup>", "10<sup>\u22121</sup>", "10<sup>0</sup>"],
         count="bottom",
         series=[(close_beta_mean, close_beta_median, close_beta_mode),
                 (far_beta_mean, far_beta_median, far_beta_mode)]),
    dict(label=["<i>P</i><sub><i>mag</i></sub> \u00d7 10<sup>\u22129</sup>", "[dyne/cm<sup>\u22122</sup>]"],
         log=False, rng=[-0.03, 3.47], tickvals=[0, 1, 2, 3], ticktext=None, count="top",
         series=[(close_pmag_mean, close_pmag_median, close_pmag_mode),
                 (far_pmag_mean, far_pmag_median, far_pmag_mode)]),
    dict(label=["<i>P</i><sub><i>th</i></sub> \u00d7 10<sup>\u22129</sup>", "[dyne/cm<sup>\u22122</sup>]"],
         log=False, rng=[-0.03, 3.5], tickvals=[0, 1, 2, 3], ticktext=None, count="top",
         series=[(close_pth_mean, close_pth_median, close_pth_mode),
                 (far_pth_mean, far_pth_median, far_pth_mode)]),
]
counts = [close_counts, far_counts]

# ---------------------------------------------------------------------------
# Styling and geometry (page pixels)
# ---------------------------------------------------------------------------
FONT = "DejaVu Sans"
C_MEAN, C_MEDIAN, C_MODE = "#1b1b1b", "#c67a8e", "#dfb55c"
SHEATH_FILL = "#bfdec6"
MC_FILL = "#d4eefb"
GRID = "#e3e3e3"

# The page body keeps an 8 px margin around the figure; the captured page
# (figure plus margins) is then fitted back into the window size.
MARGIN = 8
PAGE_W = W + MARGIN          # left margin only adds to the scroll width
PAGE_H = H + 2 * MARGIN      # top and bottom margins add to the height

col_px = [(132, 892), (938, 1694)]
col_center_px = [512, 1316]
row_top_px = [95, 237, 380, 522, 665, 807, 951, 1094]
ROW_H = 128


def fx(px):
    """window x pixel -> paper fraction"""
    return min(1.0, max(0.0, (px * PAGE_W / W - MARGIN) / W))


def fy(px):
    """window y pixel -> paper fraction (paper y counts from the bottom)"""
    return min(1.0, max(0.0, 1 - (px * PAGE_H / H - MARGIN) / H))


minor_log = [k * 10.0 ** e for e in (-3, -2, -1, 0) for k in range(2, 10)]


def time_axis(n):
    return np.round(-2.95 + 0.1 * np.arange(n), 2)


fig = go.Figure()
layout = dict(
    width=W, height=H,
    margin=dict(l=0, r=0, t=0, b=0),
    paper_bgcolor="white", plot_bgcolor="white",
    showlegend=False,
    font=dict(family=FONT, size=15, color="#262626"),
)
shapes, annotations = [], []

for r, row in enumerate(rows):
    top = row_top_px[r]
    ydom = [fy(top + ROW_H), fy(top)]
    for c in range(2):
        idx = r * 2 + c + 1
        sfx = "" if idx == 1 else str(idx)
        xref, yref = "x" + sfx, "y" + sfx
        x0p, x1p = col_px[c]
        bottom_row = r == len(rows) - 1

        layout["xaxis" + sfx] = dict(
            domain=[fx(x0p), fx(x1p)], range=[-3, 7], anchor=yref,
            showgrid=False, zeroline=False,
            showline=True, linecolor="black", linewidth=1.6,
            tickmode="array", tickvals=x_tick_vals,
            ticks="outside" if bottom_row else "", ticklen=5, tickwidth=1.2, tickcolor="black",
            showticklabels=bottom_row,
            tickfont=dict(family=FONT, size=15, color="#262626"),
        )
        yax = dict(
            domain=ydom, anchor=xref, range=row["rng"],
            type="log" if row["log"] else "linear",
            showgrid=True, gridcolor=GRID, gridwidth=1, zeroline=False,
            showline=True, linecolor="black", linewidth=1.6,
            tickmode="array", tickvals=row["tickvals"],
            ticks="outside" if c == 0 else "", ticklen=5, tickwidth=1.2, tickcolor="black",
            showticklabels=(c == 0),
            tickfont=dict(family=FONT, size=15, color="#262626"),
        )
        if row["ticktext"]:
            yax["ticktext"] = row["ticktext"]
        if row["log"] and c == 0:
            yax["minor"] = dict(tickmode="array", tickvals=minor_log, ticks="outside",
                                ticklen=3, tickwidth=1, tickcolor="black", showgrid=False)
        layout["yaxis" + sfx] = yax

        # sheath and magnetic-cloud intervals
        for xa, xb, fill in ((0, 1, SHEATH_FILL), (1, 4, MC_FILL)):
            shapes.append(dict(type="rect", xref=xref, yref=yref + " domain",
                               x0=xa, x1=xb, y0=0, y1=1, fillcolor=fill,
                               line=dict(width=0), layer="below"))

        mean_v, median_v, mode_v = row["series"][c]
        for vals, color in ((mode_v, C_MODE), (median_v, C_MEDIAN), (mean_v, C_MEAN)):
            fig.add_trace(go.Scatter(
                x=time_axis(len(vals)), y=vals, mode="markers",
                marker=dict(size=4.6, color=color, line=dict(width=0)),
                xaxis=xref, yaxis=yref, hoverinfo="skip",
            ))

        n_before, n_after = counts[c][r]
        ypos = 1 - 30 / ROW_H if row["count"] == "top" else 32 / ROW_H
        for xv, txt in ((-2.57, n_before), (6.12, n_after)):
            annotations.append(dict(
                x=xv, y=ypos, xref=xref, yref=yref + " domain",
                text=str(txt), showarrow=False,
                font=dict(family=FONT, size=15, color="#111111"),
                xanchor="center", yanchor="middle",
            ))

    # y-axis label(s) on the left column
    yc = fy(top + ROW_H / 2)
    label_x = [62] if len(row["label"]) == 1 else [25, 60]
    for lx, txt in zip(label_x, row["label"]):
        annotations.append(dict(
            x=fx(lx), y=yc, xref="paper", yref="paper", text=txt,
            textangle=-90, showarrow=False, xanchor="center", yanchor="middle",
            font=dict(family=FONT, size=19, color="#262626"),
        ))

# column titles and x-axis labels
for c, title in enumerate(column_titles):
    cx = col_center_px[c]
    annotations.append(dict(x=fx(cx), y=fy(73), xref="paper", yref="paper",
                            text=title, showarrow=False, xanchor="center", yanchor="middle",
                            font=dict(family=FONT, size=22, color="#262626")))
    annotations.append(dict(x=fx(cx), y=fy(1262), xref="paper", yref="paper",
                            text=x_label, showarrow=False, xanchor="center", yanchor="middle",
                            font=dict(family=FONT, size=19, color="#262626")))

# statistic headers
for txt, px, color in (("mean", 470, "#272b2e"), ("median", 871, "#c47b8d"), ("mode", 1238, "#d8b86b")):
    annotations.append(dict(x=fx(px), y=fy(27), xref="paper", yref="paper",
                            text="<b>" + txt + "</b>", showarrow=False,
                            xanchor="center", yanchor="middle",
                            font=dict(family="Open Sans", size=40, color=color)))

# red banner line along the top edge
shapes.append(dict(type="rect", xref="paper", yref="paper", x0=0, x1=1,
                   y0=1 - 6 / H, y1=1, fillcolor="#c00000", line=dict(width=0), layer="above"))

layout["shapes"] = shapes
layout["annotations"] = annotations
fig.update_layout(**layout)

fig.write_html("out.html")
